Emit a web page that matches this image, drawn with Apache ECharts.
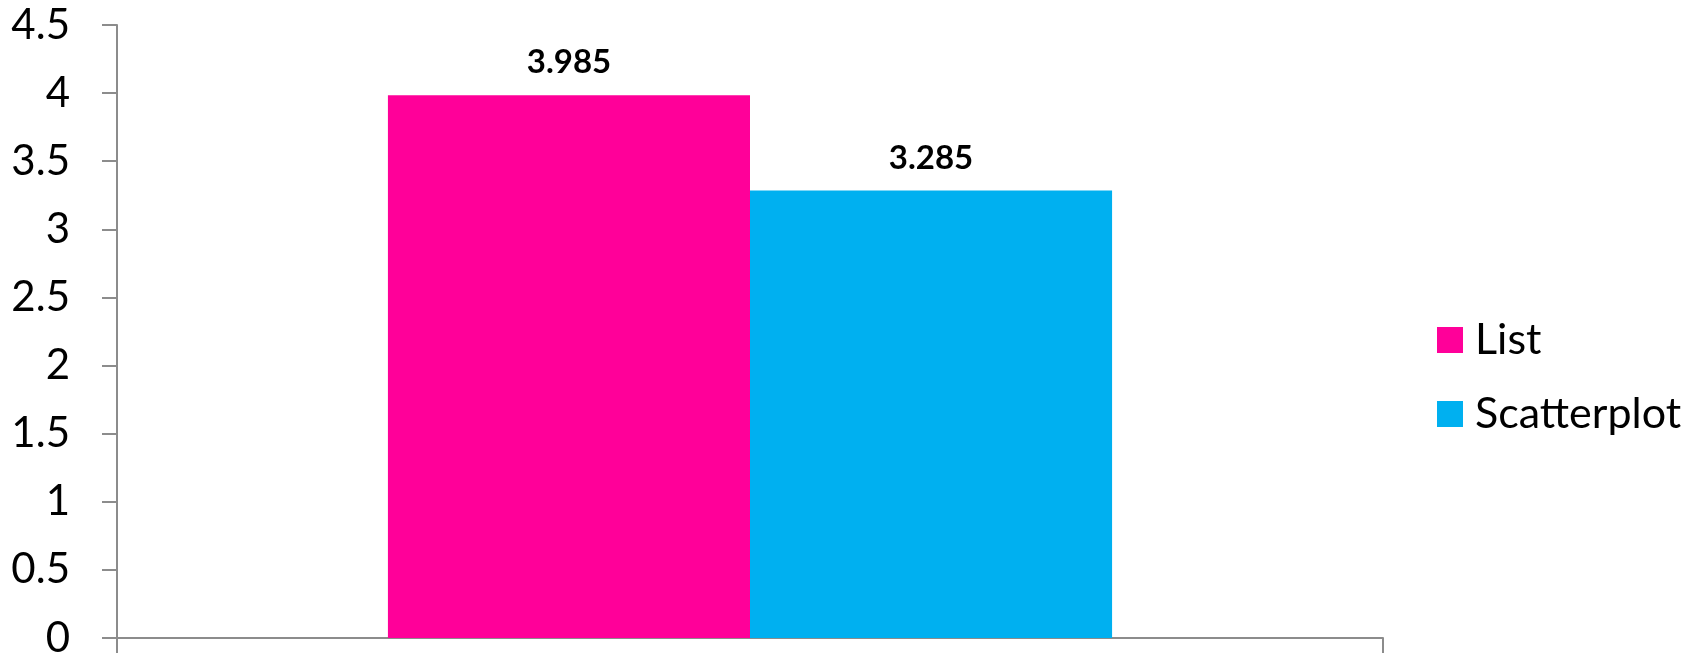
<!DOCTYPE html>
<html>
<head>
<meta charset="utf-8">
<script src="https://cdn.jsdelivr.net/npm/echarts@6/dist/echarts.min.js"></script>
<style>
html,body{margin:0;padding:0;background:#fff;}
#chart{width:1703px;height:659px;}
</style>
</head>
<body>
<div id="chart"></div>
<script>
const categories = [''];
const seriesNames = ['List', 'Scatterplot'];
const listValues = [3.985];
const scatterValues = [3.285];
const colors = ['#FF0099', '#00B0F0'];

const chart = echarts.init(document.getElementById('chart'));
const FONT = 'Lato';
const labelStyle = {
  show: true, position: 'top', distance: 16,
  fontFamily: FONT, fontWeight: 'bold', fontSize: 33, color: '#000'
};
chart.setOption({
  animation: false,
  grid: {left: 117, right: 320, top: 25, bottom: 18, containLabel: false},
  legend: {
    orient: 'vertical', left: 1432, top: 312,
    itemWidth: 26, itemHeight: 26, itemGap: 28,
    icon: 'rect',
    textStyle: {fontFamily: FONT, fontSize: 43, color: '#000', lineHeight: 46, padding: [0,0,0,7]},
    data: seriesNames
  },
  xAxis: {
    type: 'category', data: categories,
    axisLine: {lineStyle: {color: '#8c8c8c', width: 2}},
    axisTick: {show: true, length: 15, lineStyle: {color: '#8c8c8c', width: 2}},
    axisLabel: {show: false}
  },
  yAxis: {
    type: 'value', min: 0, max: 4.5, interval: 0.5,
    axisLine: {show: true, lineStyle: {color: '#8c8c8c', width: 2}},
    axisTick: {show: true, length: 15, lineStyle: {color: '#8c8c8c', width: 2}},
    splitLine: {show: false},
    axisLabel: {fontFamily: FONT, fontSize: 42, color: '#000', margin: 47}
  },
  series: [
    {name: seriesNames[0], type: 'bar', data: listValues, barGap: '0%', barCategoryGap: '42.8%',
     itemStyle: {color: colors[0]}, label: labelStyle},
    {name: seriesNames[1], type: 'bar', data: scatterValues, barGap: '0%', barCategoryGap: '42.8%',
     itemStyle: {color: colors[1]}, label: labelStyle}
  ]
});
</script>
</body>
</html>
